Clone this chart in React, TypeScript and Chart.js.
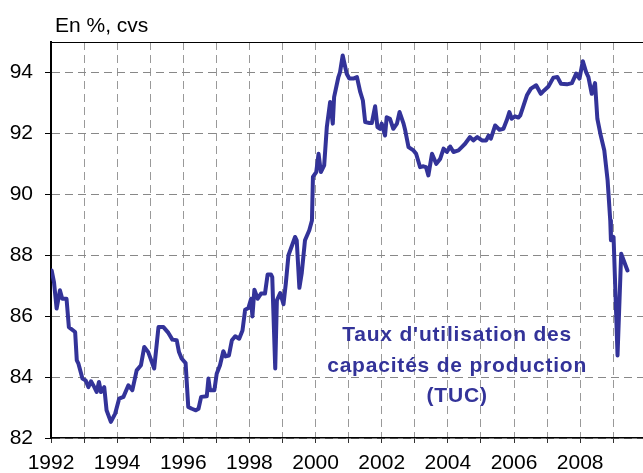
import React, { useEffect, useRef } from 'react';
import { Chart, registerables } from 'chart.js';

Chart.register(...registerables);

// Decimal years (month positions)
const dates: number[] = [
  1992.02, 1992.09, 1992.17, 1992.27, 1992.34, 1992.47, 1992.54, 1992.73, 1992.78, 1992.83, 1992.95,
  1993.05, 1993.13, 1993.21, 1993.31, 1993.38, 1993.45, 1993.51, 1993.61, 1993.68, 1993.81, 1993.94,
  1994.06, 1994.19, 1994.34, 1994.46, 1994.59, 1994.72, 1994.82, 1994.94,
  1995.12, 1995.25, 1995.40, 1995.55, 1995.67, 1995.80, 1995.87, 1995.95,
  1996.07, 1996.15, 1996.26, 1996.38, 1996.46, 1996.54, 1996.71, 1996.76, 1996.81, 1996.94,
  1997.01, 1997.11, 1997.21, 1997.28, 1997.38, 1997.47, 1997.57, 1997.69, 1997.79, 1997.87, 1997.97,
  1998.05, 1998.09, 1998.15, 1998.25, 1998.35, 1998.47, 1998.55, 1998.65, 1998.69, 1998.78, 1998.83, 1998.93,
  1999.03, 1999.10, 1999.18, 1999.38, 1999.43, 1999.51, 1999.58, 1999.68, 1999.81, 1999.89, 1999.92,
  2000.02, 2000.09, 2000.16, 2000.26, 2000.34, 2000.44, 2000.52, 2000.56, 2000.69, 2000.74, 2000.82, 2000.94,
  2001.02, 2001.14, 2001.25, 2001.35, 2001.43, 2001.50, 2001.63, 2001.70, 2001.80, 2001.87, 2001.95,
  2002.00, 2002.10, 2002.15, 2002.25, 2002.35, 2002.46, 2002.54, 2002.66, 2002.71, 2002.81, 2002.96,
  2003.04, 2003.16, 2003.26, 2003.34, 2003.41, 2003.52, 2003.65, 2003.77, 2003.87, 2003.97,
  2004.07, 2004.17, 2004.32, 2004.42, 2004.52, 2004.67, 2004.77, 2004.89,
  2005.03, 2005.16, 2005.23, 2005.30, 2005.43, 2005.56, 2005.68, 2005.78, 2005.86, 2005.93,
  2006.03, 2006.13, 2006.19, 2006.29, 2006.39, 2006.51, 2006.67, 2006.81, 2006.91,
  2007.04, 2007.19, 2007.31, 2007.42, 2007.60, 2007.75, 2007.88, 2007.98,
  2008.08, 2008.18, 2008.25, 2008.35, 2008.45, 2008.52, 2008.61, 2008.73, 2008.83, 2008.91, 2008.93,
  2009.01, 2009.13, 2009.24, 2009.43,
];

// Taux d'utilisation des capacités de production (en %)
const tuc: number[] = [
  87.5, 87.12, 86.25, 86.85, 86.57, 86.57, 85.64, 85.48, 84.55, 84.44, 83.95,
  83.89, 83.67, 83.86, 83.67, 83.51, 83.84, 83.51, 83.67, 82.91, 82.53, 82.8,
  83.29, 83.35, 83.73, 83.57, 84.22, 84.39, 84.99, 84.82,
  84.28, 85.64, 85.64, 85.45, 85.23, 85.21, 84.82, 84.61,
  84.46, 83.02, 82.96, 82.91, 82.96, 83.35, 83.37, 83.95, 83.57, 83.57,
  84.11, 84.39, 84.85, 84.68, 84.71, 85.21, 85.34, 85.26, 85.53, 86.21, 86.27,
  86.57, 85.99, 86.87, 86.57, 86.74, 86.74, 87.37, 87.37, 87.28, 84.28, 86.52, 86.76,
  86.39, 87.07, 88.0, 88.6, 88.49, 86.93, 87.4, 88.49, 88.82, 89.14, 90.57,
  90.73, 91.33, 90.73, 90.95, 92.21, 93.03, 92.32, 93.19, 93.85, 94.01, 94.56, 93.96,
  93.8, 93.8, 93.85, 93.36, 93.08, 92.37, 92.34, 92.34, 92.89, 92.21, 92.15,
  92.32, 91.93, 92.53, 92.48, 92.15, 92.32, 92.7, 92.32, 92.1, 91.55, 91.44,
  91.33, 90.89, 90.92, 90.89, 90.62, 91.33, 91.0, 91.17, 91.5, 91.39,
  91.57, 91.39, 91.44, 91.55, 91.66, 91.88, 91.77, 91.88,
  91.77, 91.77, 91.93, 91.83, 92.26, 92.12, 92.15, 92.43, 92.7, 92.48,
  92.56, 92.52, 92.59, 92.92, 93.25, 93.47, 93.58, 93.3, 93.41,
  93.54, 93.83, 93.85, 93.63, 93.61, 93.65, 93.96, 93.8,
  94.37, 94.01, 93.85, 93.3, 93.65, 92.48, 91.99, 91.44, 90.46, 89.14, 88.49,
  88.6, 84.71, 88.05, 87.5,
];

const yTickValues: number[] = [82, 84, 86, 88, 90, 92, 94];
const xLabelYears: number[] = [1992, 1994, 1996, 1998, 2000, 2002, 2004, 2006, 2008];
const unitLabel = 'En %, cvs';
const noteLines: string[] = ["Taux d'utilisation des", 'capacités de production', '(TUC)'];

const FONT = '"Liberation Sans", Arial, Helvetica, sans-serif';
const LINE_COLOR = '#333399';

export default function App() {
  const canvasRef = useRef<HTMLCanvasElement | null>(null);

  useEffect(() => {
    const canvas = canvasRef.current;
    if (!canvas) return;

    const decorPlugin = {
      id: 'decor',
      afterDraw(chart: any) {
        const { ctx, chartArea, scales } = chart;
        ctx.save();
        // top frame line
        ctx.strokeStyle = '#000';
        ctx.lineWidth = 1;
        ctx.beginPath();
        ctx.moveTo(chartArea.left, chartArea.top + 0.5);
        ctx.lineTo(chartArea.right, chartArea.top + 0.5);
        ctx.stroke();
        // unit label
        ctx.fillStyle = '#000';
        ctx.font = `21px ${FONT}`;
        ctx.textAlign = 'left';
        ctx.textBaseline = 'alphabetic';
        ctx.fillText(unitLabel, chartArea.left + 4, 32);
        // annotation
        ctx.fillStyle = LINE_COLOR;
        ctx.font = `bold 21px ${FONT}`;
        ctx.textAlign = 'center';
        try { (ctx as any).letterSpacing = '0.8px'; } catch (e) {}
        const cx = scales.x.getPixelForValue(2004.28);
        const by = scales.y.getPixelForValue(85.17);
        noteLines.forEach((t, i) => ctx.fillText(t, cx, by + i * 30.5));
        ctx.restore();
      },
    };

    const chart = new Chart(canvas, {
      type: 'line',
      data: {
        datasets: [
          {
            label: 'TUC',
            data: dates.map((d, i) => ({ x: d, y: tuc[i] })),
            borderColor: LINE_COLOR,
            backgroundColor: LINE_COLOR,
            borderWidth: 4,
            pointRadius: 0,
            tension: 0,
            borderJoinStyle: 'round',
            borderCapStyle: 'round',
          },
        ],
      },
      options: {
        animation: false,
        responsive: true,
        maintainAspectRatio: false,
        layout: { padding: { top: 42, left: 0, right: 0, bottom: 0 } },
        plugins: {
          legend: { display: false },
          tooltip: { enabled: false },
          title: { display: false },
        },
        scales: {
          x: {
            type: 'linear',
            min: 1992,
            max: 2009.9,
            afterBuildTicks: (axis: any) => {
              const out = [];
              for (let yr = 1992; yr <= 2009; yr++) out.push({ value: yr });
              axis.ticks = out;
            },
            afterFit: (scale: any) => {
              scale.height = 35;
            },
            ticks: {
              autoSkip: false,
              maxRotation: 0,
              padding: 8,
              color: '#000',
              font: { family: FONT, size: 21 },
              callback: (v: any) => (xLabelYears.includes(Number(v)) ? String(v) : ''),
            },
            grid: {
              color: '#999',
              lineWidth: 1,
              drawTicks: true,
              tickLength: 5,
              tickColor: '#333',
              tickWidth: 1,
            },
            border: { display: true, color: '#000', width: 1.5, dash: [8, 5] },
          },
          y: {
            type: 'linear',
            min: 82,
            max: 95,
            afterBuildTicks: (axis: any) => {
              axis.ticks = yTickValues.map((v) => ({ value: v }));
            },
            afterFit: (scale: any) => {
              scale.width = 51;
            },
            ticks: {
              padding: 12,
              color: '#000',
              font: { family: FONT, size: 21 },
              callback: (v: any) => String(v),
            },
            grid: {
              color: '#888',
              lineWidth: 1,
              drawTicks: true,
              tickLength: 6,
              tickColor: '#000',
              tickWidth: 1,
            },
            border: { display: true, color: '#000', width: 2, dash: [8, 5] },
          },
        },
      },
      plugins: [decorPlugin],
    } as any);

    return () => chart.destroy();
  }, []);

  return (
    <div style={{ position: 'fixed', left: 0, top: 0, width: 643, height: 473, background: '#fff' }}>
      <canvas ref={canvasRef} />
    </div>
  );
}
